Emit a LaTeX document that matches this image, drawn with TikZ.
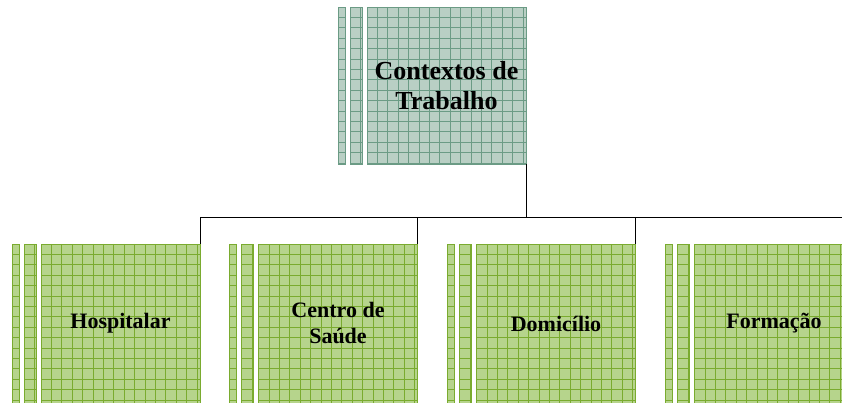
\documentclass[tikz,border=0pt]{standalone}
\usepackage{fontspec}
\setmainfont{Liberation Serif}
\usetikzlibrary{positioning}
\definecolor{topfill}{HTML}{B9CFC4}
\definecolor{topline}{HTML}{6B9B85}
\definecolor{subfill}{HTML}{B6D48C}
\definecolor{subline}{HTML}{7AAB2F}
\tikzset{
  gridded/.style={draw=#1, line width=0.8pt, inner sep=0pt, outer sep=0pt,
    path picture={
      \foreach \i in {1,...,16}{
        \draw[#1, line width=0.8pt] ([xshift=\i*10.4pt]path picture bounding box.north west)
          --([xshift=\i*10.4pt]path picture bounding box.south west);
        \draw[#1, line width=0.8pt] ([yshift=-\i*10.4pt]path picture bounding box.north west)
          --([yshift=-\i*10.4pt]path picture bounding box.north east);}}},
  topbox/.style={gridded=topline, fill=topfill, minimum width=159pt, minimum height=157pt,
    align=center, font=\fontsize{26}{30}\selectfont\bfseries},
  subbox/.style={gridded=subline, fill=subfill, minimum width=159pt, minimum height=159pt,
    align=center, font=\fontsize{22}{26}\selectfont\bfseries},
  topstrip/.style={gridded=topline, fill=topfill, minimum height=157pt},
  substrip/.style={gridded=subline, fill=subfill, minimum height=159pt},
}
\begin{document}
\begin{tikzpicture}[x=1pt,y=1pt]
\useasboundingbox (0,0) rectangle (842,403);
\clip (0,0) rectangle (842,403);
% top
\node[topbox] (ctx) at (446.5,317.5) {Contextos de\\Trabalho};
\node[topstrip, minimum width=12pt, left=5pt of ctx] (ctxb) {};
\node[topstrip, minimum width=7pt, left=5pt of ctxb] (ctxa) {};
% children
\node[subbox] (hosp) at (120.5,79.5) {Hospitalar};
\node[substrip, minimum width=12pt, left=5pt of hosp] (hospb) {};
\node[substrip, minimum width=7pt, left=5pt of hospb] (hospa) {};
\node[subbox] (saude) at (338,79.5) {Centro de\\Saúde};
\node[substrip, minimum width=12pt, left=5pt of saude] (saudeb) {};
\node[substrip, minimum width=7pt, left=5pt of saudeb] (saudea) {};
\node[subbox] (dom) at (556,79.5) {Domicílio};
\node[substrip, minimum width=12pt, left=5pt of dom] (domb) {};
\node[substrip, minimum width=7pt, left=5pt of domb] (doma) {};
\node[subbox] (form) at (774,79.5) {Formação};
\node[substrip, minimum width=12pt, left=5pt of form] (formb) {};
\node[substrip, minimum width=7pt, left=5pt of formb] (forma) {};
% connectors
\foreach \c in {hosp,saude,dom,form}
  \draw[line width=1pt] (ctx.south east)--++(0,-54)-|(\c.north east);
\end{tikzpicture}
\end{document}
